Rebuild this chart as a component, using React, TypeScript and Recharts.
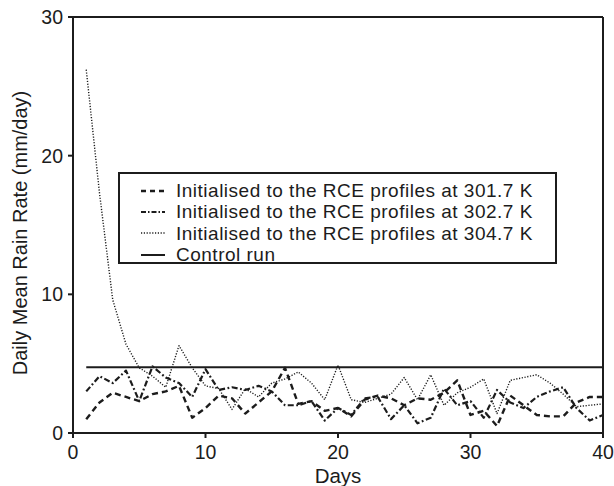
import React from 'react';
import { LineChart, Line, XAxis, YAxis, Legend } from 'recharts';

const days = [1, 2, 3, 4, 5, 6, 7, 8, 9, 10, 11, 12, 13, 14, 15, 16, 17, 18, 19, 20, 21, 22, 23, 24, 25, 26, 27, 28, 29, 30, 31, 32, 33, 34, 35, 36, 37, 38, 39, 40];

const rce3017 = [1.0, 2.2, 2.9, 2.6, 2.3, 2.8, 3.0, 3.4, 1.1, 1.8, 2.7, 2.5, 1.4, 2.2, 3.0, 4.7, 2.1, 2.3, 1.6, 1.8, 1.2, 2.4, 2.7, 2.5, 2.0, 2.5, 2.4, 2.9, 3.8, 1.3, 1.6, 0.5, 2.7, 2.0, 1.3, 1.2, 1.2, 2.2, 2.6, 2.6];
const rce3027 = [3.0, 4.1, 3.6, 4.5, 2.3, 4.8, 4.0, 3.6, 2.6, 4.6, 3.1, 3.3, 3.1, 3.4, 3.0, 2.0, 2.0, 2.3, 0.9, 1.8, 1.3, 2.5, 2.6, 1.0, 2.0, 0.7, 1.1, 3.2, 2.0, 2.3, 1.1, 3.1, 2.2, 1.8, 2.6, 3.0, 3.3, 1.8, 0.9, 1.3];
const rce3047 = [26.2, 17.3, 9.6, 6.4, 4.7, 4.1, 3.3, 6.3, 4.7, 3.4, 3.2, 1.7, 3.2, 2.6, 3.6, 3.9, 4.4, 3.6, 2.4, 4.9, 2.4, 2.2, 2.5, 2.8, 4.0, 2.4, 4.2, 2.0, 2.9, 3.3, 3.9, 1.4, 3.8, 4.0, 4.2, 3.6, 2.8, 1.9, 2.0, 2.1];
const controlRun = [4.74, 4.74, 4.74, 4.74, 4.74, 4.74, 4.74, 4.74, 4.74, 4.74, 4.74, 4.74, 4.74, 4.74, 4.74, 4.74, 4.74, 4.74, 4.74, 4.74, 4.74, 4.74, 4.74, 4.74, 4.74, 4.74, 4.74, 4.74, 4.74, 4.74, 4.74, 4.74, 4.74, 4.74, 4.74, 4.74, 4.74, 4.74, 4.74, 4.74];

const xTicks = [0, 10, 20, 30, 40];
const yTicks = [0, 10, 20, 30];

const seriesNames = [
  'Initialised to the RCE profiles at 301.7 K',
  'Initialised to the RCE profiles at 302.7 K',
  'Initialised to the RCE profiles at 304.7 K',
  'Control run',
];

const data = days.map((d, i) => ({
  day: d,
  a: rce3017[i],
  b: rce3027[i],
  c: rce3047[i],
  ctrl: controlRun[i],
}));

const INK = '#1c1c1c';
const FONT = '"Liberation Sans", Arial, Helvetica, sans-serif';

const styles = [
  { key: 'a', dash: '6 4', width: 2.4 },
  { key: 'b', dash: '6 2.5 1.8 2.5', width: 2.2 },
  { key: 'c', dash: '1.2 1.6', width: 1.4 },
  { key: 'ctrl', dash: undefined, width: 2 },
];

const LegendBox = () => (
  <div
    style={{
      border: `2px solid ${INK}`,
      background: '#fff',
      width: 435,
      height: 82,
      boxSizing: 'content-box',
      paddingTop: 6,
      fontFamily: FONT,
      fontSize: 19,
      letterSpacing: 0.5,
      color: INK,
    }}
  >
    {seriesNames.map((name, i) => (
      <div key={name} style={{ display: 'flex', alignItems: 'center', height: 21.3, lineHeight: '21.3px' }}>
        <svg width={24} height={20} style={{ marginLeft: 21, marginRight: 11, flex: 'none' }}>
          <line
            x1={0}
            x2={24}
            y1={10}
            y2={10}
            stroke={INK}
            strokeWidth={styles[i].width}
            strokeDasharray={i === 0 ? '5 4' : i === 1 ? '5 2 1.5 2' : i === 2 ? '1.2 1.6' : undefined}
          />
        </svg>
        <span style={{ whiteSpace: 'nowrap' }}>{name}</span>
      </div>
    ))}
  </div>
);

const YLabel = (props: any) => {
  const vb = props.viewBox || { x: 0, y: 17, width: 73, height: 416 };
  const cx = vb.x + 27;
  const cy = vb.y + vb.height / 2 + 8;
  return (
    <text
      x={cx}
      y={cy}
      transform={`rotate(-90, ${cx}, ${cy})`}
      textAnchor="middle"
      fontSize={20}
      fontFamily={FONT}
      fill={INK}
    >
      Daily Mean Rain Rate (mm/day)
    </text>
  );
};

const XLabel = (props: any) => {
  const vb = props.viewBox || { x: 73, y: 433, width: 530, height: 53 };
  return (
    <text
      x={vb.x + vb.width / 2}
      y={vb.y + 50}
      textAnchor="middle"
      fontSize={20.5}
      fontFamily={FONT}
      fill={INK}
    >
      Days
    </text>
  );
};

export default function App() {
  const tickStyle = { fontSize: 19.5, fontFamily: FONT, fill: INK };
  return (
    <div style={{ position: 'absolute', left: 0, top: 0, width: 614, height: 486, background: '#fff' }}>
      <LineChart width={614} height={486} data={data} margin={{ top: 0, right: 0, bottom: 0, left: 0 }}>
        <XAxis
          dataKey="day"
          type="number"
          domain={[0, 40]}
          ticks={xTicks}
          height={53}
          tickSize={5}
          tickMargin={7}
          stroke={INK}
          strokeWidth={2}
          tick={tickStyle}
          label={<XLabel />}
        />
        <XAxis
          xAxisId="top"
          orientation="top"
          type="number"
          domain={[0, 40]}
          ticks={xTicks}
          height={17}
          tickSize={6}
          stroke={INK}
          strokeWidth={2}
          tick={false}
        />
        <YAxis
          type="number"
          domain={[0, 30]}
          ticks={yTicks}
          width={73}
          tickSize={5}
          tickMargin={5}
          stroke={INK}
          strokeWidth={2}
          tick={tickStyle}
          label={<YLabel />}
        />
        <YAxis
          yAxisId="right"
          orientation="right"
          type="number"
          domain={[0, 30]}
          ticks={yTicks}
          width={11}
          tickSize={6}
          stroke={INK}
          strokeWidth={2}
          tick={false}
        />
        <Legend
          layout="vertical"
          align="center"
          verticalAlign="middle"
          content={<LegendBox />}
          wrapperStyle={{ position: 'absolute', left: 118, top: 172, width: 439, height: 93 }}
        />
        {styles.map((s, i) => (
          <Line
            key={s.key}
            dataKey={s.key}
            name={seriesNames[i]}
            stroke={INK}
            strokeWidth={s.width}
            strokeDasharray={s.dash}
            dot={false}
            activeDot={false}
            isAnimationActive={false}
            strokeLinejoin="round"
          />
        ))}
      </LineChart>
    </div>
  );
}
